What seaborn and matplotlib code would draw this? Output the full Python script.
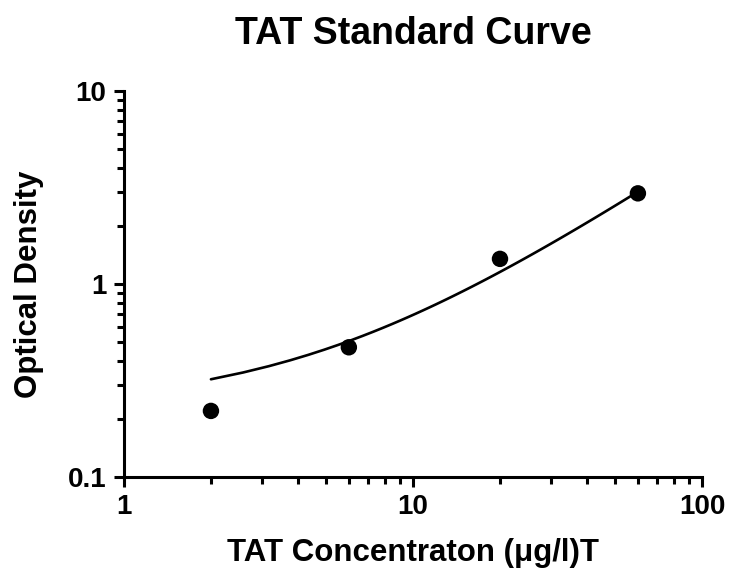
import matplotlib
matplotlib.use("Agg")
import matplotlib.pyplot as plt
import seaborn as sns
import pandas as pd
from matplotlib.ticker import LogLocator, FixedLocator, FixedFormatter, NullFormatter

concentration = [2, 6, 20, 60]
optical_density = [0.22, 0.47, 1.35, 2.95]
x_ticks = [1, 10, 100]
x_tick_labels = ["1", "10", "100"]
y_ticks = [0.1, 1, 10]
y_tick_labels = ["0.1", "1", "10"]

df = pd.DataFrame({"conc": concentration, "od": optical_density})

sns.set_theme(style="ticks")
plt.rcParams['font.family'] = ['Liberation Sans', 'DejaVu Sans']
plt.rcParams['font.weight'] = 'bold'
plt.rcParams['text.color'] = 'black'
plt.rcParams['axes.labelcolor'] = 'black'
plt.rcParams['xtick.color'] = 'black'
plt.rcParams['ytick.color'] = 'black'

fig = plt.figure(figsize=(7.29, 5.69), dpi=100)
ax = fig.add_axes([0.170, 0.1617, 0.793, 0.6783])

sns.regplot(data=df, x="conc", y="od", ax=ax, ci=None, truncate=True,
            scatter_kws=dict(s=140, color="black", edgecolor="none", alpha=1, zorder=3),
            line_kws=dict(color="black", lw=1.9))

ax.set_xscale("log")
ax.set_yscale("log")
ax.set_xlim(1, 100)
ax.set_ylim(0.1, 10)

ax.xaxis.set_major_locator(FixedLocator(x_ticks))
ax.xaxis.set_major_formatter(FixedFormatter(x_tick_labels))
ax.yaxis.set_major_locator(FixedLocator(y_ticks))
ax.yaxis.set_major_formatter(FixedFormatter(y_tick_labels))
ax.xaxis.set_minor_locator(LogLocator(base=10, subs=range(2, 10)))
ax.yaxis.set_minor_locator(LogLocator(base=10, subs=range(2, 10)))
ax.xaxis.set_minor_formatter(NullFormatter())
ax.yaxis.set_minor_formatter(NullFormatter())

for side in ["top", "right"]:
    ax.spines[side].set_visible(False)
for side in ["left", "bottom"]:
    ax.spines[side].set_linewidth(2.2)
    ax.spines[side].set_color("black")

ax.tick_params(which="major", length=7.5, width=2.2, color="black",
               labelsize=20, pad=5)
ax.tick_params(which="minor", length=5, width=2.2, color="black")
for lbl in ax.get_xticklabels() + ax.get_yticklabels():
    lbl.set_fontweight("bold")

ax.set_xlabel("TAT Concentraton (\u03bcg/l)T", fontsize=22.5, fontweight="bold", labelpad=12.5, color="black")
ax.set_ylabel("Optical Density", fontsize=22.5, fontweight="bold", labelpad=17, color="black")
ax.set_title("TAT Standard Curve", fontsize=27, fontweight="bold", pad=34, color="black")

fig.savefig("out.png", dpi=100, facecolor="white")
